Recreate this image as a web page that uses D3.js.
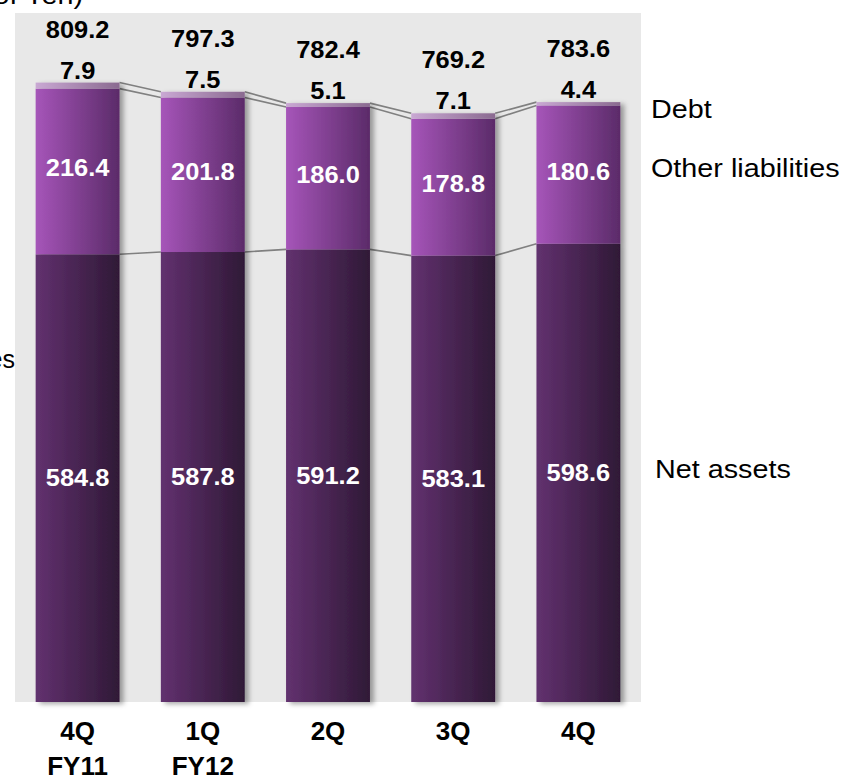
<!DOCTYPE html>
<html>
<head>
<meta charset="utf-8">
<script src="https://cdn.jsdelivr.net/npm/d3@7"></script>
<style>
  html, body { margin: 0; padding: 0; background: #fff; }
  svg { display: block; font-family: "Liberation Sans", Arial, sans-serif; }
</style>
</head>
<body>
<div id="chart"></div>
<script>
// values in billions of yen
const categories = ["4Q FY11", "1Q FY12", "2Q", "3Q", "4Q"];
const catLines = [["4Q", "FY11"], ["1Q", "FY12"], ["2Q"], ["3Q"], ["4Q"]];
const netAssets = [584.8, 587.8, 591.2, 583.1, 598.6];
const otherLiab = [216.4, 201.8, 186.0, 178.8, 180.6];
const debt = [7.9, 7.5, 5.1, 7.1, 4.4];
const totals = [809.2, 797.3, 782.4, 769.2, 783.6];
const seriesNames = ["Net assets", "Other liabilities", "Debt"];

const W = 844, H = 781;
const panel = { left: 15, right: 641, top: 13, bottom: 702 };

const svg = d3.select("#chart").append("svg")
  .attr("width", W).attr("height", H);

const defs = svg.append("defs");
function grad(id, c1, c2){
  const g = defs.append("linearGradient").attr("id", id)
    .attr("x1", "0%").attr("x2", "100%").attr("y1", "0%").attr("y2", "0%");
  g.append("stop").attr("offset", "0%").attr("stop-color", c1);
  g.append("stop").attr("offset", "100%").attr("stop-color", c2);
}
grad("gNet", "#62316f", "#2f1936");
grad("gOther", "#a655b9", "#5b2b69");
grad("gDebt", "#c9a8d3", "#8a6a90");

const shadow = defs.append("filter").attr("id", "shadow")
  .attr("x", "-20%").attr("y", "-5%").attr("width", "150%").attr("height", "115%");
shadow.append("feDropShadow").attr("dx", 4).attr("dy", 2)
  .attr("stdDeviation", 2.5).attr("flood-color", "#000").attr("flood-opacity", 0.35);

// panel
svg.append("rect")
  .attr("x", panel.left).attr("y", panel.top)
  .attr("width", panel.right - panel.left).attr("height", panel.bottom - panel.top)
  .attr("fill", "#e8e8e8");

const x = d3.scaleBand()
  .domain(categories)
  .range([panel.left, panel.right])
  .paddingInner(0.33).paddingOuter(0.165);

const y = d3.scaleLinear().domain([0, 900]).range([panel.bottom, panel.top]);

const data = categories.map((c, i) => ({
  cat: c, lines: catLines[i],
  net: netAssets[i], other: otherLiab[i], debt: debt[i], total: totals[i],
  yNet: netAssets[i],
  yOther: netAssets[i] + otherLiab[i],
  yTop: netAssets[i] + otherLiab[i] + debt[i]
}));

// connector lines
const conn = svg.append("g").attr("stroke", "#808080").attr("stroke-width", 1.6).attr("fill", "none");
for (let i = 0; i < data.length - 1; i++){
  const a = data[i], b = data[i + 1];
  const x1 = x(a.cat) + x.bandwidth(), x2 = x(b.cat);
  ["yNet", "yOther", "yTop"].forEach(k => {
    conn.append("line")
      .attr("x1", x1).attr("x2", x2)
      .attr("y1", y(a[k])).attr("y2", y(b[k]));
  });
}

// bars
const bars = svg.append("g").selectAll("g.bar").data(data).enter()
  .append("g").attr("class", "bar").attr("filter", "url(#shadow)");

bars.append("rect")
  .attr("x", d => x(d.cat)).attr("width", x.bandwidth())
  .attr("y", d => y(d.yNet)).attr("height", d => y(0) - y(d.yNet))
  .attr("fill", "url(#gNet)");
bars.append("rect")
  .attr("x", d => x(d.cat)).attr("width", x.bandwidth())
  .attr("y", d => y(d.yOther)).attr("height", d => y(d.yNet) - y(d.yOther))
  .attr("fill", "url(#gOther)");
bars.append("rect")
  .attr("x", d => x(d.cat)).attr("width", x.bandwidth())
  .attr("y", d => y(d.yTop)).attr("height", d => y(d.yOther) - y(d.yTop))
  .attr("fill", "url(#gDebt)");

const fmt = d3.format(".1f");
const cx = d => x(d.cat) + x.bandwidth() / 2;

function numLabel(sel, yFn, txt, color){
  sel.append("text")
    .attr("transform", d => `translate(${cx(d)},${yFn(d)}) scale(1.06,1)`)
    .attr("text-anchor", "middle")
    .style("font-size", "24px").style("font-weight", "700")
    .attr("fill", color)
    .text(txt);
}

const lbl = svg.append("g").selectAll("g").data(data).enter().append("g");
numLabel(lbl, d => y(d.yTop) - 45, d => fmt(d.total), "#000");
numLabel(lbl, d => y(d.yTop) - 4, d => fmt(d.debt), "#000");
numLabel(lbl, d => (y(d.yNet) + y(d.yOther)) / 2 + 5, d => fmt(d.other), "#fff");
numLabel(lbl, d => (y(0) + y(d.yNet)) / 2 + 8, d => fmt(d.net), "#fff");

// category labels
const cl = svg.append("g").selectAll("text").data(data).enter().append("text")
  .attr("text-anchor", "middle")
  .style("font-size", "26px").style("font-weight", "700")
  .attr("fill", "#000");
cl.each(function(d){
  const t = d3.select(this);
  d.lines.forEach((ln, j) => {
    t.append("tspan").attr("x", cx(d)).attr("y", 740 + j * 35).text(ln);
  });
});

// series names on the right
function sideText(tx, ty, s, anchor, size, sx){
  svg.append("text")
    .attr("transform", `translate(${tx},${ty}) scale(${sx || 1.15},1)`)
    .attr("text-anchor", anchor || "start")
    .style("font-size", (size || 25) + "px")
    .attr("fill", "#000")
    .text(s);
}
sideText(651, 118, seriesNames[2]);
sideText(651, 177, seriesNames[1]);
sideText(655, 478, seriesNames[0]);
sideText(15, 368, "Total liabilities", "end", 25, 1.0);
sideText(83, 4, "(Billions of Yen)", "end");
</script>
</body>
</html>
